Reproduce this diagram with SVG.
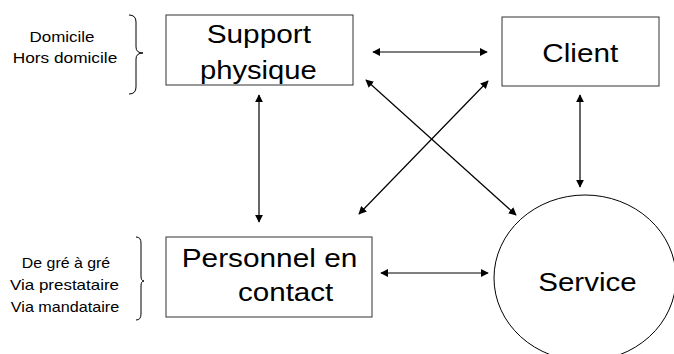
<svg xmlns="http://www.w3.org/2000/svg" width="674" height="354" viewBox="0 0 674 354">
<style>
.box{fill:#fff;stroke:#333;stroke-width:1}
.big{font-family:"Liberation Sans",Arial,sans-serif;font-size:26.5px;fill:#000}
.small{font-family:"Liberation Sans",Arial,sans-serif;font-size:15px;fill:#000}
.conn{stroke:#000;stroke-width:1.2;fill:none;marker-start:url(#ah);marker-end:url(#ah)}
.brace{stroke:#000;stroke-width:1;fill:none}
</style>
<defs>
<marker id="ah" viewBox="0 0 10 10" refX="9" refY="5" markerWidth="8" markerHeight="8" markerUnits="userSpaceOnUse" orient="auto-start-reverse">
<path d="M0,0 L10,5 L0,10 z" fill="#000"/>
</marker>
</defs>
<rect width="674" height="354" fill="#fff"/>
<g id="note-top">
<text class="small" x="62" y="41.7" text-anchor="middle" textLength="65" lengthAdjust="spacingAndGlyphs">Domicile</text>
<text class="small" x="65" y="63.3" text-anchor="middle" textLength="104.6" lengthAdjust="spacingAndGlyphs">Hors domicile</text>
<path class="brace" d="M129,15 Q136,15 136,22 L136,47 Q136,53 143,53 Q136,53 136,59 L136,87 Q136,94 129,94"/>
</g>
<g id="note-bottom">
<text class="small" x="66" y="267.7" text-anchor="middle" textLength="88.3" lengthAdjust="spacingAndGlyphs">De gré à gré</text>
<text class="small" x="64.5" y="290" text-anchor="middle" textLength="109" lengthAdjust="spacingAndGlyphs">Via prestataire</text>
<text class="small" x="65" y="311.7" text-anchor="middle" textLength="108.3" lengthAdjust="spacingAndGlyphs">Via mandataire</text>
<path class="brace" d="M136,237 Q141,237 141,243 L141,276 Q141,281 144,281 Q141,281 141,286 L141,314 Q141,320 136,320"/>
</g>
<g id="support-physique">
<rect class="box" x="166" y="15" width="187" height="70"/>
<text class="big" x="206.7" y="43" textLength="104.3" lengthAdjust="spacingAndGlyphs">Support</text>
<text class="big" x="200" y="79" textLength="116.7" lengthAdjust="spacingAndGlyphs">physique</text>
</g>
<g id="client">
<rect class="box" x="502" y="17" width="157" height="69"/>
<text class="big" x="542.3" y="62.3" textLength="76" lengthAdjust="spacingAndGlyphs">Client</text>
</g>
<g id="personnel">
<rect class="box" x="166" y="237" width="206" height="80"/>
<text class="big" x="181.7" y="266.7" textLength="175.6" lengthAdjust="spacingAndGlyphs">Personnel en</text>
<text class="big" x="238" y="300.7" textLength="95.3" lengthAdjust="spacingAndGlyphs">contact</text>
</g>
<g id="service">
<ellipse cx="585" cy="278" rx="91" ry="83" fill="#fff" stroke="#000" stroke-width="1"/>
<text class="big" x="538.3" y="291" textLength="98.3" lengthAdjust="spacingAndGlyphs">Service</text>
</g>
<g id="connectors">
<line class="conn" x1="373" y1="52" x2="487" y2="52"/>
<line class="conn" x1="580" y1="95" x2="580" y2="187"/>
<line class="conn" x1="366" y1="80" x2="516" y2="215"/>
<line class="conn" x1="488" y1="81" x2="359" y2="214"/>
<line class="conn" x1="259" y1="95" x2="259" y2="222"/>
<line class="conn" x1="381" y1="273" x2="488" y2="273"/>
</g>
</svg>
